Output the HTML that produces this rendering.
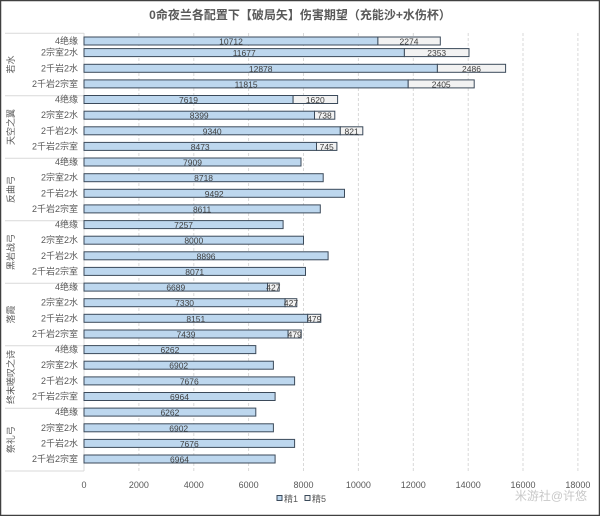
<!DOCTYPE html>
<html><head><meta charset="utf-8"><style>
body{margin:0;background:#fff}
svg{display:block;font-family:"Liberation Sans","Noto Sans CJK SC",sans-serif}
.r{font-size:9px;fill:#595959;text-anchor:end}
.v{font-size:8.5px;fill:#404040;text-anchor:middle}
.g{font-size:9px;fill:#595959;text-anchor:middle}
.t{font-size:9px;fill:#595959;text-anchor:middle}
.b1{fill:#bdd7ee;stroke:#3b4a5a;stroke-width:1}
.b5{fill:#f2f2f2;stroke:#3b4a5a;stroke-width:1}
</style></head><body>
<svg width="600" height="516" viewBox="0 0 600 516">
<rect x="0.5" y="0.5" width="599" height="515" fill="#fff" stroke="#404040" stroke-width="1.5"/>
<text x="300" y="19" style="font-size:12px;font-weight:bold;fill:#595959" text-anchor="middle">0命夜兰各配置下【破局矢】伤害期望（充能沙+水伤杯）</text>
<g stroke="#d9d9d9" stroke-dasharray="3,2" stroke-width="1">
<line x1="138.9" y1="33" x2="138.9" y2="471"/><line x1="193.8" y1="33" x2="193.8" y2="471"/><line x1="248.6" y1="33" x2="248.6" y2="471"/><line x1="303.5" y1="33" x2="303.5" y2="471"/><line x1="358.4" y1="33" x2="358.4" y2="471"/><line x1="413.3" y1="33" x2="413.3" y2="471"/><line x1="468.2" y1="33" x2="468.2" y2="471"/><line x1="523" y1="33" x2="523" y2="471"/><line x1="577.9" y1="33" x2="577.9" y2="471"/>
</g>
<g stroke="#d9d9d9" stroke-width="1">
<line x1="84" y1="33" x2="84" y2="471"/>
<line x1="5" y1="33.2" x2="84" y2="33.2"/><line x1="5" y1="95.7" x2="84" y2="95.7"/><line x1="5" y1="158.2" x2="84" y2="158.2"/><line x1="5" y1="220.8" x2="84" y2="220.8"/><line x1="5" y1="283.3" x2="84" y2="283.3"/><line x1="5" y1="345.8" x2="84" y2="345.8"/><line x1="5" y1="408.3" x2="84" y2="408.3"/><line x1="5" y1="471" x2="84" y2="471"/>
</g>
<g class="g">
<text transform="translate(14,64.5) rotate(-90)">若水</text>
<text transform="translate(14,127) rotate(-90)">天空之翼</text>
<text transform="translate(14,189.5) rotate(-90)">反曲弓</text>
<text transform="translate(14,252) rotate(-90)">黑岩战弓</text>
<text transform="translate(14,314.5) rotate(-90)">落霞</text>
<text transform="translate(14,377) rotate(-90)">终末嗟叹之诗</text>
<text transform="translate(14,439.7) rotate(-90)">祭礼弓</text>
</g>
<g class="r">
<text x="78" y="44">4绝缘</text><text x="78" y="55.6">2宗室2水</text><text x="78" y="71.3">2千岩2水</text><text x="78" y="86.9">2千岩2宗室</text>
<text x="78" y="102.5">4绝缘</text><text x="78" y="118.2">2宗室2水</text><text x="78" y="133.8">2千岩2水</text><text x="78" y="149.4">2千岩2宗室</text>
<text x="78" y="165">4绝缘</text><text x="78" y="180.7">2宗室2水</text><text x="78" y="196.3">2千岩2水</text><text x="78" y="211.9">2千岩2宗室</text>
<text x="78" y="227.6">4绝缘</text><text x="78" y="243.2">2宗室2水</text><text x="78" y="258.8">2千岩2水</text><text x="78" y="274.4">2千岩2宗室</text>
<text x="78" y="290.1">4绝缘</text><text x="78" y="305.7">2宗室2水</text><text x="78" y="321.3">2千岩2水</text><text x="78" y="337">2千岩2宗室</text>
<text x="78" y="352.6">4绝缘</text><text x="78" y="368.2">2宗室2水</text><text x="78" y="383.9">2千岩2水</text><text x="78" y="399.5">2千岩2宗室</text>
<text x="78" y="415.1">4绝缘</text><text x="78" y="430.8">2宗室2水</text><text x="78" y="446.4">2千岩2水</text><text x="78" y="462">2千岩2宗室</text>
</g>
<g>
<rect class="b1" x="84" y="37" width="293.9" height="8"/><rect class="b5" x="377.9" y="37" width="62.4" height="8"/>
<rect class="b1" x="84" y="48.6" width="320.4" height="8"/><rect class="b5" x="404.4" y="48.6" width="64.6" height="8"/>
<rect class="b1" x="84" y="64.3" width="353.4" height="8"/><rect class="b5" x="437.4" y="64.3" width="68.2" height="8"/>
<rect class="b1" x="84" y="79.9" width="324.2" height="8"/><rect class="b5" x="408.2" y="79.9" width="66" height="8"/>
<rect class="b1" x="84" y="95.5" width="209.1" height="8"/><rect class="b5" x="293.1" y="95.5" width="44.5" height="8"/>
<rect class="b1" x="84" y="111.2" width="230.5" height="8"/><rect class="b5" x="314.5" y="111.2" width="20.3" height="8"/>
<rect class="b1" x="84" y="126.8" width="256.3" height="8"/><rect class="b5" x="340.3" y="126.8" width="22.5" height="8"/>
<rect class="b1" x="84" y="142.4" width="232.5" height="8"/><rect class="b5" x="316.5" y="142.4" width="20.4" height="8"/>
<rect class="b1" x="84" y="158" width="217" height="8"/>
<rect class="b1" x="84" y="173.7" width="239.2" height="8"/>
<rect class="b1" x="84" y="189.3" width="260.5" height="8"/>
<rect class="b1" x="84" y="204.9" width="236.3" height="8"/>
<rect class="b1" x="84" y="220.6" width="199.1" height="8"/>
<rect class="b1" x="84" y="236.2" width="219.5" height="8"/>
<rect class="b1" x="84" y="251.8" width="244.1" height="8"/>
<rect class="b1" x="84" y="267.4" width="221.5" height="8"/>
<rect class="b1" x="84" y="283.1" width="183.5" height="8"/><rect class="b5" x="267.5" y="283.1" width="11.7" height="8"/>
<rect class="b1" x="84" y="298.7" width="201.1" height="8"/><rect class="b5" x="285.1" y="298.7" width="11.7" height="8"/>
<rect class="b1" x="84" y="314.3" width="223.7" height="8"/><rect class="b5" x="307.7" y="314.3" width="13.1" height="8"/>
<rect class="b1" x="84" y="330" width="204.1" height="8"/><rect class="b5" x="288.1" y="330" width="13.1" height="8"/>
<rect class="b1" x="84" y="345.6" width="171.8" height="8"/>
<rect class="b1" x="84" y="361.2" width="189.4" height="8"/>
<rect class="b1" x="84" y="376.9" width="210.6" height="8"/>
<rect class="b1" x="84" y="392.5" width="191.1" height="8"/>
<rect class="b1" x="84" y="408.1" width="171.8" height="8"/>
<rect class="b1" x="84" y="423.8" width="189.4" height="8"/>
<rect class="b1" x="84" y="439.4" width="210.6" height="8"/>
<rect class="b1" x="84" y="455" width="191.1" height="8"/>
</g>
<g class="v">
<text x="231" y="44.5">10712</text><text x="409" y="44.5">2274</text>
<text x="244.2" y="56.1">11677</text><text x="436.7" y="56.1">2353</text>
<text x="260.7" y="71.8">12878</text><text x="471.5" y="71.8">2486</text>
<text x="246.1" y="87.4">11815</text><text x="441.2" y="87.4">2405</text>
<text x="188.5" y="103">7619</text><text x="315.3" y="103">1620</text>
<text x="199.2" y="118.7">8399</text><text x="324.6" y="118.7">738</text>
<text x="212.2" y="134.3">9340</text><text x="351.6" y="134.3">821</text>
<text x="200.2" y="149.9">8473</text><text x="326.7" y="149.9">745</text>
<text x="192.5" y="165.5">7909</text>
<text x="203.6" y="181.2">8718</text>
<text x="214.2" y="196.8">9492</text>
<text x="202.1" y="212.4">8611</text>
<text x="183.6" y="228.1">7257</text>
<text x="193.8" y="243.7">8000</text>
<text x="206.1" y="259.3">8896</text>
<text x="194.7" y="274.9">8071</text>
<text x="175.8" y="290.6">6689</text><text x="273.4" y="290.6">427</text>
<text x="184.6" y="306.2">7330</text><text x="291" y="306.2">427</text>
<text x="195.8" y="321.8">8151</text><text x="314.3" y="321.8">479</text>
<text x="186" y="337.5">7439</text><text x="294.7" y="337.5">479</text>
<text x="169.9" y="353.1">6262</text>
<text x="178.7" y="368.7">6902</text>
<text x="189.3" y="384.4">7676</text>
<text x="179.5" y="400">6964</text>
<text x="169.9" y="415.6">6262</text>
<text x="178.7" y="431.3">6902</text>
<text x="189.3" y="446.9">7676</text>
<text x="179.5" y="462.5">6964</text>
</g>
<g class="t">
<text x="84" y="488">0</text><text x="138.9" y="488">2000</text><text x="193.8" y="488">4000</text><text x="248.6" y="488">6000</text><text x="303.5" y="488">8000</text><text x="358.4" y="488">10000</text><text x="413.3" y="488">12000</text><text x="468.2" y="488">14000</text><text x="523" y="488">16000</text><text x="577.9" y="488">18000</text>
</g>
<rect class="b1" x="277" y="495.5" width="5" height="5"/>
<text x="284" y="502" style="font-size:9px;fill:#595959">精1</text>
<rect class="b5" x="305" y="495.5" width="5" height="5"/>
<text x="312" y="502" style="font-size:9px;fill:#595959">精5</text>
<text x="587" y="500" style="font-size:12px;fill:#c8c8c8" text-anchor="end">米游社@许悠</text>
</svg>
</body></html>
